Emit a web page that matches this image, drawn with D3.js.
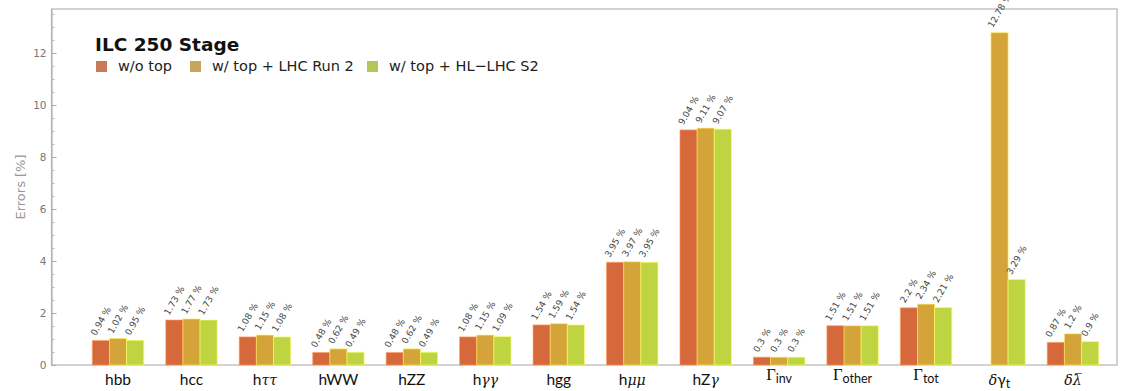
<!DOCTYPE html>
<html><head><meta charset="utf-8">
<script src="https://cdn.jsdelivr.net/npm/d3@7"></script>
<style>body{margin:0;background:#fff}svg{display:block}</style>
</head><body>
<svg id="chart" width="1122" height="391"></svg>
<script>
// Higgs coupling / width error estimates, ILC 250 stage
const categories = ["hbb","hcc","hττ","hWW","hZZ","hγγ","hgg","hμμ","hZγ","Γinv","Γother","Γtot","δγt","δλ̄"];
const seriesNames = ["w/o top","w/ top + LHC Run 2","w/ top + HL\u2212LHC S2"];
const woTop   = [0.94,1.73,1.08,0.48,0.48,1.08,1.54,3.95,9.04,0.3,1.51,2.2,null,0.87];
const lhcRun2 = [1.02,1.77,1.15,0.62,0.62,1.15,1.59,3.97,9.11,0.3,1.51,2.34,12.78,1.2];
const hlLhc   = [0.95,1.73,1.08,0.49,0.49,1.09,1.54,3.95,9.07,0.3,1.51,2.21,3.29,0.9];
const yTicks = [0,2,4,6,8,10,12];
const yMinorTicks = d3.range(0.5,13.6,0.5).filter(v => v % 2 !== 0);
const barColors = ["#D6693B","#D4A43B","#BED441"];
const swatchColors = ["#C97A5A","#C8A55A","#B6C65A"];

// pieces of each category label: [text, kind]
const labelParts = {
  "hbb":[["hbb","s"]], "hcc":[["hcc","s"]],
  "hττ":[["h","s"],["ττ","gi"]], "hWW":[["hWW","s"]], "hZZ":[["hZZ","s"]],
  "hγγ":[["h","s"],["γγ","gi"]], "hgg":[["hgg","s"]],
  "hμμ":[["h","s"],["μμ","gi"]], "hZγ":[["hZ","s"],["γ","gi"]],
  "Γinv":[["Γ","G"],["inv","sub"]], "Γother":[["Γ","G"],["other","sub"]],
  "Γtot":[["Γ","G"],["tot","sub"]],
  "δγt":[["δ","gi"],["γ","s"],["t","sub"]],
  "δλ̄":[["δ","gi"],["λ\u0305","gi"]]
};

const plot = {left:51.5, right:1117, top:9, bottom:365};
const svg = d3.select("#chart");

const x = d3.scaleBand().domain(categories).range([81.3, 1109.7])
  .paddingInner(0.3).paddingOuter(0.15);
const xs = d3.scaleBand().domain([0,1,2]).range([0, x.bandwidth()]);
const y = d3.scaleLinear().domain([0, 13.69]).range([plot.bottom, plot.top]);

// frame
svg.append("rect").attr("x",plot.left).attr("y",plot.top)
  .attr("width",plot.right-plot.left).attr("height",plot.bottom-plot.top)
  .attr("fill","none").attr("stroke","#b4b4b4").attr("stroke-width",1.2);

// y axis (ticks point into the plot)
const yAxis = svg.append("g").attr("transform",`translate(${plot.left},0)`)
  .call(d3.axisLeft(y).tickValues(yTicks).tickSizeInner(-5).tickSizeOuter(0).tickPadding(5));
yAxis.select(".domain").attr("stroke","#b4b4b4").attr("stroke-width",1.2);
yAxis.selectAll(".tick line").attr("stroke","#aaa");
yAxis.selectAll(".tick text").attr("fill","#777").style("font-family","DejaVu Sans").style("font-size","10.5px");
const yMinor = svg.append("g").attr("transform",`translate(${plot.left},0)`)
  .call(d3.axisLeft(y).tickValues(yMinorTicks).tickSizeInner(-3).tickSizeOuter(0).tickFormat(""));
yMinor.select(".domain").remove();
yMinor.selectAll(".tick line").attr("stroke","#bbb");

svg.append("text").attr("transform","translate(20,187) rotate(-90)")
  .attr("text-anchor","middle").attr("dominant-baseline","central")
  .style("font-family","DejaVu Sans").style("font-size","13px").attr("fill","#999")
  .text("Errors [%]");

// bars
const series = [woTop, lhcRun2, hlLhc];
const rows = [];
categories.forEach((c,i) => series.forEach((s,k) => {
  if (s[i] != null) rows.push({c, k, v:s[i]});
}));
const gBars = svg.append("g");
gBars.selectAll("rect").data(rows).join("rect")
  .attr("x", d => x(d.c) + xs(d.k))
  .attr("width", xs.bandwidth())
  .attr("y", d => y(d.v))
  .attr("height", d => y(0) - y(d.v))
  .attr("fill", d => barColors[d.k])
  .attr("stroke", d => d3.color(barColors[d.k]).brighter(1.1))
  .attr("stroke-opacity",0.6).attr("stroke-width",1);

// rotated value labels above bars
const angle = 60, rad = angle*Math.PI/180, fs = 9;
const lbl = svg.append("g").selectAll("text").data(rows).join("text")
  .attr("text-anchor","middle").attr("dominant-baseline","central")
  .style("font-family","DejaVu Sans").style("font-size",fs+"px").attr("fill","#444")
  .text(d => d.v + " %");
lbl.attr("transform", function(d){
  const L = this.getComputedTextLength();
  const h = L*Math.sin(rad) + fs*0.8*Math.cos(rad);
  const cx = x(d.c) + xs(d.k) + xs.bandwidth()/2;
  const cy = y(d.v) - 4 - h/2;
  return `translate(${cx},${cy}) rotate(${-angle})`;
});

// category labels
const xAxis = svg.append("g").attr("transform",`translate(0,${plot.bottom})`)
  .call(d3.axisBottom(x).tickSize(0).tickFormat(""));
xAxis.select(".domain").remove();
xAxis.selectAll(".tick text").remove();
xAxis.selectAll(".tick").append("text")
  .attr("text-anchor","middle").attr("fill","#111")
  .each(function(c){
    const t = d3.select(this);
    const parts = labelParts[c];
    const hasGamma = parts[0][1] === "G";
    t.attr("y", hasGamma ? 15 : 20);
    parts.forEach(([txt,kind]) => {
      const sp = t.append("tspan").text(txt);
      if (kind === "s") sp.style("font-family","Lato").style("font-size","15.5px");
      if (kind === "gi") sp.style("font-family","DejaVu Serif").style("font-style","italic").style("font-size","14px");
      if (kind === "G") sp.style("font-family","Liberation Serif").style("font-size","16.5px");
      if (kind === "sub") sp.style("font-family","Lato").style("font-size","12.5px").attr("dy",3);
    });
  });

// title and legend
svg.append("text").attr("x",95).attr("y",51)
  .style("font-family","DejaVu Sans").style("font-weight","bold").style("font-size","18.5px")
  .attr("fill","#111").text("ILC 250 Stage");
const legX = [96, 190, 367];
const leg = svg.append("g").selectAll("g").data(seriesNames).join("g")
  .attr("transform",(d,i)=>`translate(${legX[i]},61)`);
leg.append("rect").attr("width",11).attr("height",11).attr("fill",(d,i)=>swatchColors[i]);
leg.append("text").attr("x",22).attr("y",10)
  .style("font-family","DejaVu Sans").style("font-size","14.5px").attr("fill","#222")
  .text(d=>d);
</script>
</body></html>
